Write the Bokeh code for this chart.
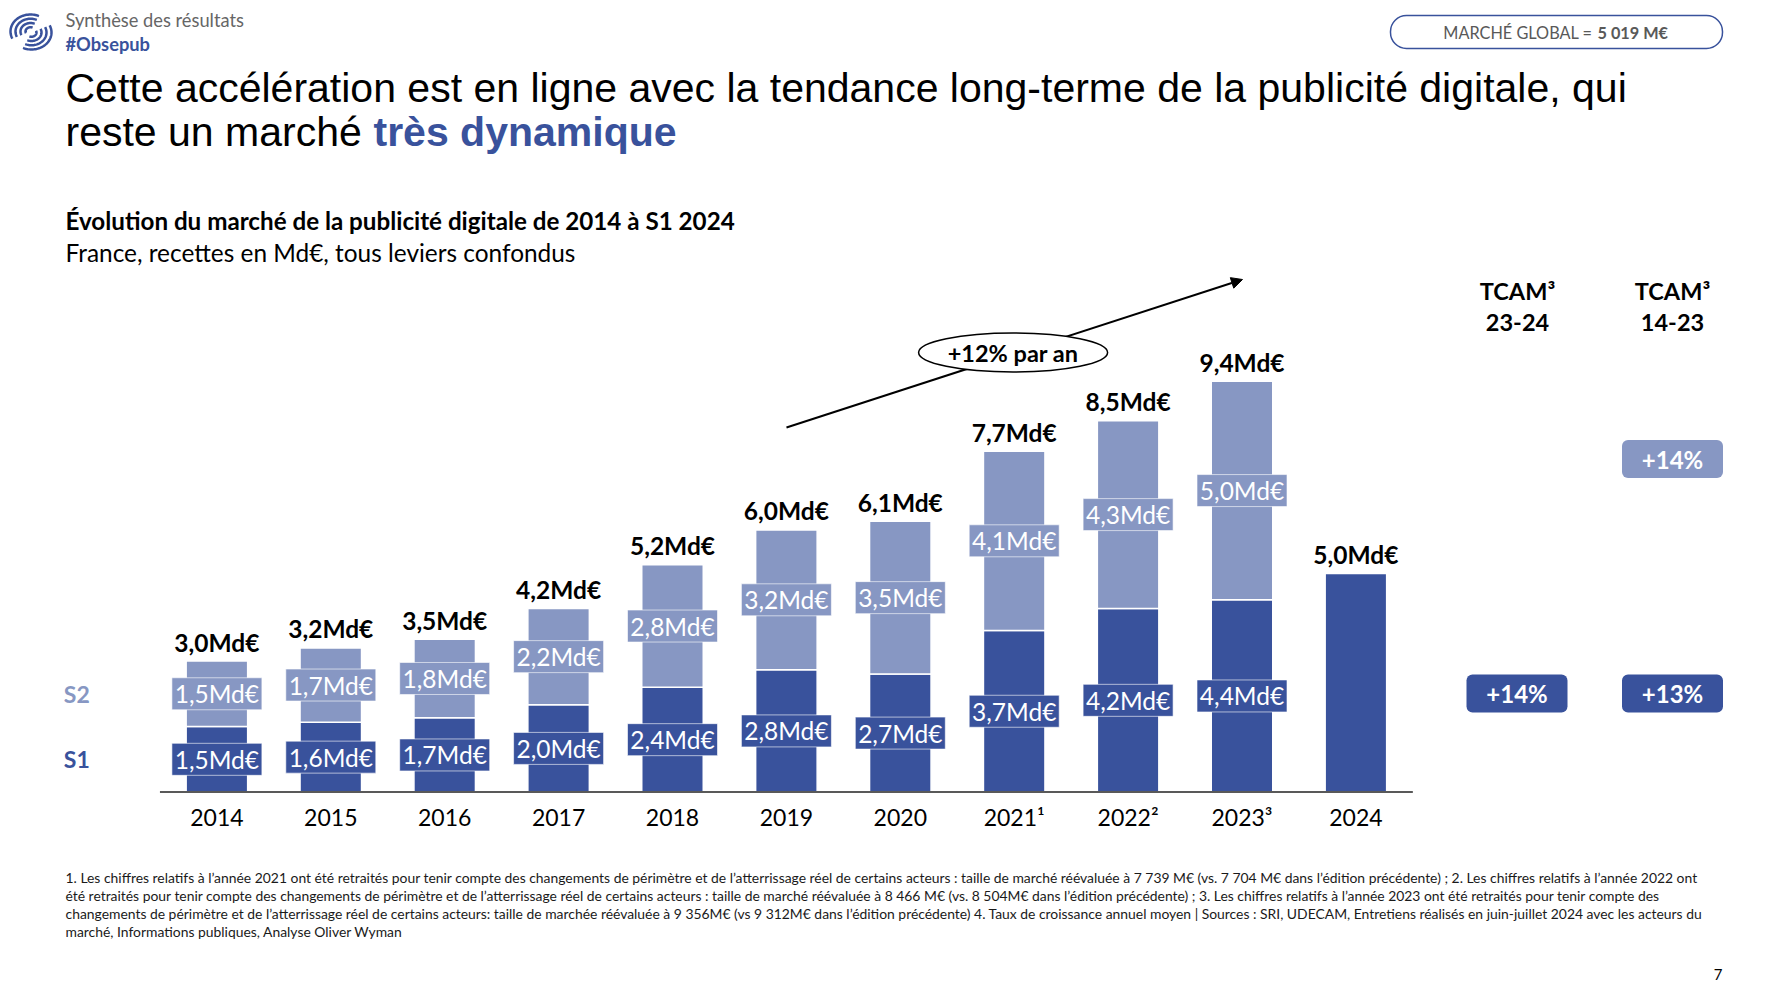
import numpy as np
from bokeh.plotting import figure
from bokeh.models import Range1d, Arrow, NormalHead
from bokeh.core.properties import value
from bokeh.embed import file_html
from bokeh.resources import INLINE

# ---------------- data ----------------
years = ["2014", "2015", "2016", "2017", "2018", "2019", "2020", "2021", "2022", "2023", "2024"]
year_labels = ["2014", "2015", "2016", "2017", "2018", "2019", "2020", "2021¹", "2022²", "2023³", "2024"]
s1 = [1.5, 1.6, 1.7, 2.0, 2.4, 2.8, 2.7, 3.7, 4.2, 4.4, 5.0]
s2 = [1.5, 1.7, 1.8, 2.2, 2.8, 3.2, 3.5, 4.1, 4.3, 5.0]          # 2014-2023 (no S2 for 2024)
totals = [3.0, 3.2, 3.5, 4.2, 5.2, 6.0, 6.1, 7.7, 8.5, 9.4, 5.0]
tcam_headers = ["TCAM³\n23-24", "TCAM³\n14-23"]
tcam_23_24_s1 = "+14%"
tcam_14_23_s2 = "+14%"
tcam_14_23_s1 = "+13%"
growth_label = "+12% par an"

DARK = "#39529C"
LIGHT = "#8797C3"
FONT = value("Lato")
TFONT = value("Liberation Sans")


def md(v):
    return f"{v:.1f}".replace(".", ",") + "Md€"


# ---------------- geometry (page pixels) ----------------
W, H = 1770, 992
OX, OY = 0, 0
X0, DX = 216.4, 113.9     # centre of first bar, distance between bars
Y0, DY = 791.6, 43.7      # baseline, pixels per Md€

x_start = (OX - X0) / DX
x_end = (OX + W - X0) / DX
y_start = (Y0 - (OY + H)) / DY
y_end = (Y0 - OY) / DY

p = figure(width=W, height=H,
           x_range=Range1d(x_start, x_end), y_range=Range1d(y_start, y_end),
           output_backend="svg", toolbar_location=None, min_border=0,
           x_axis_location=None, y_axis_location=None,
           outline_line_color=None, background_fill_color="white",
           border_fill_color="white")
p.grid.visible = False
p.extra_x_ranges = {"px": Range1d(OX, OX + W)}
p.extra_y_ranges = {"px": Range1d(OY + H, OY)}
PX = dict(x_range_name="px", y_range_name="px")

idx = list(range(len(years)))
n2 = len(s2)
top2 = [a + b for a, b in zip(s1[:n2], s2)]
tops = top2 + s1[n2:]

# ---------------- growth arrow (under everything) ----------------
p.add_layout(Arrow(end=NormalHead(size=11, fill_color="black", line_color="black"),
                   x_start=786, y_start=427, x_end=1242, y_end=279,
                   line_color="black", line_width=2, level="underlay", **PX))

# ---------------- bars ----------------
BW = 0.54
p.vbar(x=idx, bottom=0, top=s1, width=BW, fill_color=DARK, line_color="white", line_width=1.5)
p.vbar(x=idx[:n2], bottom=s1[:n2], top=top2, width=BW, fill_color=LIGHT, line_color="white", line_width=1.5)

# axis line
p.segment(x0=[-0.5], y0=[0], x1=[len(years) - 0.5], y1=[0], line_color="#595959", line_width=2)

# segment labels (S1 for all but 2024, S2 for 2014-2023)
lab_x1 = idx[:n2]
lab_y1 = [v / 2 for v in s1[:n2]]
lab_x2 = idx[:n2]
lab_y2 = [a + b / 2 for a, b in zip(s1[:n2], s2)]
for xs, ys, vals, col in [(lab_x1, lab_y1, s1[:n2], DARK), (lab_x2, lab_y2, s2, LIGHT)]:
    p.rect(x=xs, y=ys, width=90, height=32, width_units="screen", height_units="screen",
           fill_color=col, line_color="white", line_alpha=0.6, line_width=1)
    p.text(x=xs, y=ys, text=[md(v) for v in vals], text_align="center", text_baseline="middle",
           text_color="white", text_font=FONT, text_font_size="24.5px")

# totals
p.text(x=idx, y=tops, text=[md(v) for v in totals], text_align="center", text_baseline="middle",
       y_offset=-19, text_color="black", text_font=FONT, text_font_style="bold", text_font_size="24.5px")

# year labels
p.text(x=idx, y=[816.7] * len(idx), text=year_labels, text_align="center", text_baseline="middle",
       text_color="black", text_font=FONT, text_font_size="23px", y_range_name="px")

# S1 / S2 legend labels
p.text(x=[-1.23, -1.23], y=[s1[0] / 2, s1[0] + s2[0] / 2], text=["S1", "S2"],
       text_color=[DARK, LIGHT], text_align="center", text_baseline="middle",
       text_font=FONT, text_font_style="bold", text_font_size="23px")

# ellipse label of the growth arrow
p.ellipse(x=[1012.6], y=[352], width=189, height=39, width_units="screen", height_units="screen",
          fill_color="white", line_color="black", line_width=1.5, **PX)
p.text(x=[1012.6], y=[352], text=[growth_label], text_align="center", text_baseline="middle",
       text_color="black", text_font=FONT, text_font_style="bold", text_font_size="23.5px", **PX)

# ---------------- TCAM column ----------------
for cx, hdr in zip([1517, 1672], tcam_headers):
    l1, l2 = hdr.split("\n")
    p.text(x=[cx, cx], y=[290.4, 322.3], text=[l1, l2], text_align="center", text_baseline="middle",
           text_color="black", text_font=FONT, text_font_style="bold", text_font_size="23.5px", **PX)

box_x = [1516.5, 1672, 1672]
box_y = [693, 693, 458.5]
box_c = [DARK, DARK, LIGHT]
box_t = [tcam_23_24_s1, tcam_14_23_s1, tcam_14_23_s2]
p.rect(x=box_x, y=box_y, width=101, height=38, width_units="screen", height_units="screen",
       fill_color=box_c, line_color=None, border_radius=6, **PX)
p.text(x=box_x, y=box_y, text=box_t, text_align="center", text_baseline="middle",
       text_color="white", text_font=FONT, text_font_style="bold", text_font_size="24px", **PX)

# ---------------- header ----------------
# logo
xs_l, ys_l = [], []
for r in [5, 10, 15, 20]:
    for a0, a1, cx, cy in [(65, 205, 30, 31), (245, 385, 31, 32)]:
        t = np.radians(np.linspace(a0, a1, 40))
        xs_l.append(list(cx + r * np.cos(t)))
        ys_l.append(list(cy - r * 0.85 * np.sin(t)))
p.multi_line(xs=xs_l, ys=ys_l, line_color=DARK, line_width=2.5, **PX)

p.text(x=[65], y=[19.4], text=["Synthèse des résultats"], text_align="left", text_baseline="middle",
       text_color="#666666", text_font=FONT, text_font_size="18.3px", **PX)
p.text(x=[65], y=[43.3], text=["#Obsepub"], text_align="left", text_baseline="middle",
       text_color=DARK, text_font=FONT, text_font_style="bold", text_font_size="18.3px", **PX)

# pill
p.rect(x=[1556], y=[31.5], width=332, height=33, width_units="screen", height_units="screen",
       fill_color="white", line_color=DARK, line_width=1.5, border_radius=16, **PX)
p.text(x=[1592], y=[32], text=["MARCHÉ GLOBAL ="], text_align="right", text_baseline="middle",
       text_color="#595959", text_font=FONT, text_font_size="16.3px", **PX)
p.text(x=[1597], y=[32], text=["5 019 M€"], text_align="left", text_baseline="middle",
       text_color="#595959", text_font=FONT, text_font_style="bold", text_font_size="16.3px", **PX)

# title
p.text(x=[65], y=[87], text=["Cette accélération est en ligne avec la tendance long-terme de la publicité digitale, qui"],
       text_align="left", text_baseline="alphabetic", text_color="black", text_font=TFONT,
       text_font_size="41px", **PX)
p.text(x=[65], y=[131], text=["reste un marché"], text_align="left", text_baseline="alphabetic",
       text_color="black", text_font=TFONT, text_font_size="41px", **PX)
p.text(x=[373], y=[131], text=["très dynamique"], text_align="left", text_baseline="alphabetic",
       text_color=DARK, text_font=TFONT, text_font_style="bold", text_font_size="41px", **PX)

# chart title
p.text(x=[65], y=[219.8], text=["Évolution du marché de la publicité digitale de 2014 à S1 2024"],
       text_align="left", text_baseline="middle", text_color="black", text_font=FONT,
       text_font_style="bold", text_font_size="24.2px", **PX)
p.text(x=[65], y=[251.7], text=["France, recettes en Md€, tous leviers confondus"],
       text_align="left", text_baseline="middle", text_color="black", text_font=FONT,
       text_font_size="24.4px", **PX)

# footnotes
foot = [
    "1. Les chiffres relatifs à l’année 2021 ont été retraités pour tenir compte des changements de périmètre et de l’atterrissage réel de certains acteurs : taille de marché réévaluée à 7 739 M€ (vs. 7 704 M€ dans l’édition précédente) ; 2. Les chiffres relatifs à l’année 2022 ont",
    "été retraités pour tenir compte des changements de périmètre et de l’atterrissage réel de certains acteurs : taille de marché réévaluée à 8 466 M€ (vs. 8 504M€ dans l’édition précédente) ; 3. Les chiffres relatifs à l’année 2023 ont été retraités pour tenir compte des",
    "changements de périmètre et de l’atterrissage réel de certains acteurs: taille de marchée réévaluée à 9 356M€ (vs 9 312M€ dans l’édition précédente) 4. Taux de croissance annuel moyen | Sources : SRI, UDECAM, Entretiens réalisés en juin-juillet 2024 avec les acteurs du",
    "marché, Informations publiques, Analyse Oliver Wyman",
]
p.text(x=[65] * 4, y=[877, 895, 912.5, 930.6], text=foot, text_align="left", text_baseline="middle",
       text_color="#1a1a1a", text_font=FONT, text_font_size="13.9px", **PX)

p.text(x=[1717.6], y=[974], text=["7"], text_align="center", text_baseline="middle",
       text_color="black", text_font=FONT, text_font_size="15px", **PX)

open("out.html", "w").write(file_html(p, INLINE))
